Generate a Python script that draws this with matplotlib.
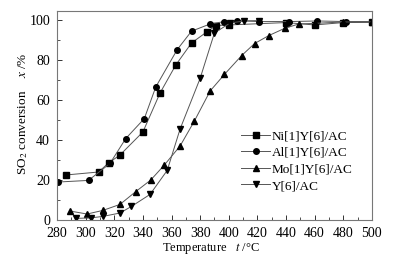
import matplotlib
matplotlib.use("Agg")
import matplotlib.pyplot as plt
from matplotlib.ticker import MultipleLocator

plt.rcParams['font.family'] = ['Liberation Serif', 'DejaVu Serif']
plt.rcParams['mathtext.fontset'] = 'stix'

ni_x = [286, 309, 316, 324, 340, 352, 363, 374, 385, 391, 400, 440, 460, 480, 500]
ni_y = [22.5, 24, 28.5, 32.5, 44, 63.5, 77.5, 88.5, 94.2, 97.2, 97.5, 98.7, 97.5, 98.7, 98.8]

al_x = [281, 302, 317, 328, 341, 349, 364, 374, 387, 397, 406, 421, 442, 462, 482, 500]
al_y = [19, 19.8, 28.3, 40.7, 50.7, 66.5, 85.2, 94.4, 98, 99.2, 99.7, 99.2, 99.2, 99.5, 99.2, 99.2]

mo_x = [289, 301, 312, 324, 335, 345.5, 355, 366, 376, 387, 397, 409, 418, 428, 439, 449, 460, 480, 500]
mo_y = [4.5, 3, 4.8, 7.8, 14.2, 20, 27.5, 37, 49.5, 64.5, 72.8, 82.2, 88.2, 92.2, 95.8, 98, 98.3, 99, 99]

y6_x = [293, 304, 312, 324, 332, 345, 357, 366, 380, 390, 401, 411, 421]
y6_y = [0.8, 1.1, 1.8, 3.5, 6.8, 12.8, 24.8, 45.5, 70.8, 93.5, 98.5, 99.5, 99.7]

labels = ['Ni[1]Y[6]/AC', 'Al[1]Y[6]/AC', 'Mo[1]Y[6]/AC', 'Y[6]/AC']
xticks = [280, 300, 320, 340, 360, 380, 400, 420, 440, 460, 480, 500]
yticks = [0, 20, 40, 60, 80, 100]

fig = plt.figure(figsize=(3.96, 2.61), dpi=100)
ax = fig.add_axes([0.144, 0.157, 0.795, 0.801])

series = [(ni_x, ni_y, 's'), (al_x, al_y, 'o'), (mo_x, mo_y, '^'), (y6_x, y6_y, 'v')]
for (xs, ys, m), lab in zip(series, labels):
    ax.plot(xs, ys, color='#555555', lw=0.7, marker=m, markersize=4,
            markerfacecolor='black', markeredgecolor='black', label=lab)

ax.set_xlim(280, 500)
ax.set_ylim(0, 104.5)
ax.set_xticks(xticks)
ax.set_yticks(yticks)
ax.xaxis.set_minor_locator(MultipleLocator(10))
ax.yaxis.set_minor_locator(MultipleLocator(10))
ax.tick_params(which='both', direction='in', top=False, right=False, labelsize=10, colors='#333333', labelcolor='black')
ax.tick_params(which='major', length=3.5, width=0.7, pad=5)
ax.tick_params(which='minor', length=2, width=0.6)
for s in ax.spines.values():
    s.set_color('#777777')
    s.set_linewidth(0.8)

ax.set_xlabel('Temperature   $t$ /\u00b0C', fontsize=9)
ax.xaxis.set_label_coords(0.49, -0.1)
ax.set_ylabel('SO$_2$ conversion    $x$ /%', fontsize=9.5)
ax.yaxis.set_label_coords(-0.087, 0.51)

ax.legend(loc='center left', bbox_to_anchor=(0.585, 0.282), frameon=False,
          fontsize=9.5, handlelength=2.2, handletextpad=0.1, labelspacing=0.33,
          borderpad=0, borderaxespad=0)

fig.savefig('out.png', dpi=100)
